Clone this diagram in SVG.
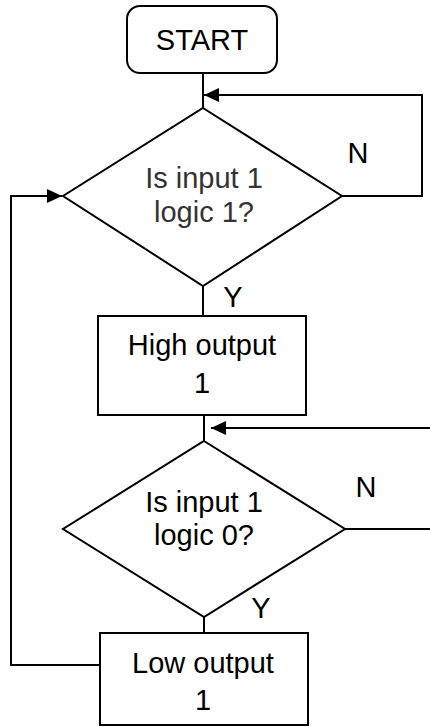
<svg xmlns="http://www.w3.org/2000/svg" width="430" height="727" viewBox="0 0 430 727">
  <style>
    .shape { fill: #ffffff; stroke: #000000; stroke-width: 2; }
    .conn { fill: none; stroke: #000000; stroke-width: 2; }
    text { font-family: "Liberation Sans", Arial, sans-serif; font-size: 29px; fill: #000000; text-anchor: middle; }
    .gray { fill: #333333; }
  </style>
  <defs>
    <marker id="arrow" markerUnits="userSpaceOnUse" markerWidth="16" markerHeight="14" refX="15" refY="7" orient="auto">
      <path d="M0,0 L15,7 L0,14 Z" fill="#000000"/>
    </marker>
  </defs>
  <rect width="430" height="727" fill="#ffffff"/>
  <g id="connectors">
    <line class="conn" x1="203" y1="73" x2="203" y2="108"/>
    <path class="conn" d="M342,196 H422 V95 H204" marker-end="url(#arrow)"/>
    <line class="conn" x1="203" y1="286" x2="203" y2="316"/>
    <line class="conn" x1="204" y1="415" x2="204" y2="441"/>
    <path class="conn" d="M432,428 H211" marker-end="url(#arrow)"/>
    <path class="conn" d="M345,529 H432"/>
    <line class="conn" x1="204" y1="617" x2="204" y2="633"/>
    <path class="conn" d="M100,665 H11 V196 H62" marker-end="url(#arrow)"/>
  </g>
  <g id="start">
    <rect class="shape" x="127" y="6" width="150" height="67" rx="13" ry="13"/>
    <text x="202" y="50">START</text>
  </g>
  <g id="decision1">
    <polygon class="shape" points="203,108 342,196 203,286 63,196"/>
    <text class="gray" x="204" y="188">Is input 1</text>
    <text class="gray" x="204" y="222">logic 1?</text>
  </g>
  <g id="label-n1"><text x="358" y="163">N</text></g>
  <g id="label-y1"><text x="233" y="307">Y</text></g>
  <g id="high-output">
    <rect class="shape" x="98" y="316" width="208" height="99"/>
    <text x="202" y="355">High output</text>
    <text x="202" y="393">1</text>
  </g>
  <g id="decision2">
    <polygon class="shape" points="204,441 345,529 204,617 63,529"/>
    <text x="204" y="512">Is input 1</text>
    <text x="204" y="545">logic 0?</text>
  </g>
  <g id="label-n2"><text x="366" y="497">N</text></g>
  <g id="label-y2"><text x="261" y="618">Y</text></g>
  <g id="low-output">
    <rect class="shape" x="100" y="633" width="208" height="92"/>
    <text x="203" y="673">Low output</text>
    <text x="203" y="710">1</text>
  </g>
</svg>
